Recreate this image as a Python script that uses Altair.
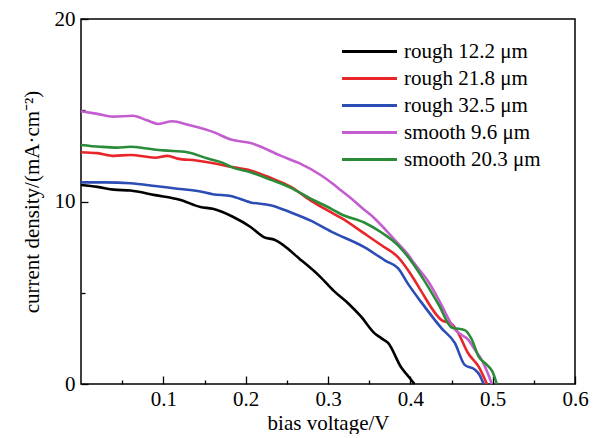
import altair as alt
import pandas as pd

series_names = ["rough 12.2 μm", "rough 21.8 μm", "rough 32.5 μm", "smooth 9.6 μm", "smooth 20.3 μm"]
series_colors = ["#000000", "#e8262a", "#2b4db5", "#c45ed0", "#2a8c38"]

black_v = [0, 0.02, 0.04, 0.06, 0.09, 0.12, 0.145, 0.16, 0.185, 0.206, 0.222, 0.235, 0.267, 0.29, 0.307, 0.325, 0.34, 0.356, 0.365, 0.373, 0.389, 0.398, 0.405]
black_j = [10.9, 10.8, 10.65, 10.6, 10.35, 10.1, 9.7, 9.6, 9.15, 8.6, 8.05, 7.9, 6.8, 5.9, 5.1, 4.4, 3.7, 2.8, 2.5, 2.25, 0.9, 0.4, 0.0]

red_v = [0, 0.02, 0.04, 0.06, 0.09, 0.105, 0.117, 0.14, 0.161, 0.182, 0.206, 0.23, 0.255, 0.279, 0.304, 0.316, 0.344, 0.365, 0.385, 0.405, 0.413, 0.438, 0.45, 0.458, 0.47, 0.483, 0.493]
red_j = [12.7, 12.65, 12.5, 12.55, 12.4, 12.5, 12.35, 12.25, 12.1, 11.9, 11.7, 11.3, 10.8, 10.05, 9.4, 9.1, 8.25, 7.6, 6.95, 5.7, 5.1, 3.5, 3.3, 2.8, 1.7, 0.95, 0.0]

blue_v = [0, 0.03, 0.06, 0.09, 0.117, 0.145, 0.16, 0.182, 0.206, 0.23, 0.255, 0.279, 0.304, 0.344, 0.37, 0.385, 0.397, 0.413, 0.438, 0.454, 0.466, 0.478, 0.484, 0.489]
blue_j = [11.05, 11.05, 11.0, 10.85, 10.7, 10.55, 10.4, 10.3, 9.95, 9.8, 9.4, 8.95, 8.35, 7.5, 6.75, 6.35, 5.5, 4.5, 3.05, 2.25, 1.05, 0.8, 0.5, 0.0]

magenta_v = [0, 0.02, 0.039, 0.063, 0.08, 0.094, 0.111, 0.13, 0.161, 0.182, 0.206, 0.243, 0.265, 0.291, 0.305, 0.316, 0.33, 0.344, 0.356, 0.37, 0.385, 0.397, 0.405, 0.422, 0.437, 0.446, 0.454, 0.462, 0.47, 0.478, 0.487, 0.494, 0.499]
magenta_j = [14.95, 14.8, 14.65, 14.7, 14.45, 14.25, 14.4, 14.2, 13.8, 13.4, 13.2, 12.5, 12.1, 11.45, 11.0, 10.6, 10.1, 9.55, 9.1, 8.45, 7.7, 7.1, 6.6, 5.6, 4.4, 3.6, 3.0, 2.7, 2.45, 1.9, 1.3, 0.6, 0.0]

green_v = [0, 0.023, 0.044, 0.06, 0.08, 0.1, 0.129, 0.154, 0.173, 0.182, 0.206, 0.23, 0.255, 0.279, 0.304, 0.316, 0.344, 0.365, 0.385, 0.4, 0.415, 0.435, 0.45, 0.466, 0.474, 0.483, 0.493, 0.5, 0.505]
green_j = [13.1, 13.0, 12.95, 13.0, 12.9, 12.8, 12.7, 12.35, 12.1, 11.9, 11.6, 11.2, 10.75, 10.15, 9.6, 9.3, 8.85, 8.3, 7.6, 6.8, 5.8, 4.3, 3.1, 2.95, 2.5, 1.5, 1.05, 0.65, 0.0]

x_major = [0.1, 0.2, 0.3, 0.4, 0.5, 0.6]
x_minor = [0.05, 0.15, 0.25, 0.35, 0.45, 0.55]
y_major = [0, 10, 20]
y_minor = [5, 15]

rows = []
for name, vs, js in zip(series_names,
                        [black_v, red_v, blue_v, magenta_v, green_v],
                        [black_j, red_j, blue_j, magenta_j, green_j]):
    for v, j in zip(vs, js):
        rows.append({"series": name, "v": v, "j": j})
df = pd.DataFrame(rows)

FONT = "Liberation Serif"
FS = 21

xscale = alt.Scale(domain=[0, 0.6], nice=False, zero=False)
yscale = alt.Scale(domain=[0, 20], nice=False)

x_major_axis = alt.Axis(values=x_major, tickSize=8, offset=-8, domain=False, grid=False,
                        orient="bottom", format=".1f", labelFlush=False,
                        labelFont=FONT, labelFontSize=FS, labelColor="black", labelPadding=4,
                        tickColor="black", tickWidth=1.3,
                        title="bias voltage/V", titleFont=FONT, titleFontSize=FS,
                        titleFontWeight="normal", titleColor="black", titlePadding=3)
x_minor_axis = alt.Axis(values=x_minor, tickSize=4, offset=-4, domain=False, grid=False,
                        orient="bottom", labels=False, tickColor="black", tickWidth=1.3, title=None)
y_major_axis = alt.Axis(values=y_major, tickSize=7, offset=-7, domain=False, grid=False,
                        orient="left", labelFlush=False,
                        labelFont=FONT, labelFontSize=FS, labelColor="black", labelPadding=6,
                        tickColor="black", tickWidth=1.3,
                        title="current density/(mA·cm⁻²)", titleFont=FONT, titleFontSize=FS,
                        titleFontWeight="normal", titleColor="black", titlePadding=12)
y_minor_axis = alt.Axis(values=y_minor, tickSize=4, offset=-4, domain=False, grid=False,
                        orient="left", labels=False, tickColor="black", tickWidth=1.3, title=None)

legend = alt.Legend(orient="none", legendX=276, legendY=20, title=None,
                    symbolType="M-2.5,0H2.5", symbolSize=484, symbolStrokeWidth=3,
                    labelFont=FONT, labelFontSize=FS, labelColor="black", labelOffset=22,
                    rowPadding=4, padding=0)

lines = alt.Chart(df).mark_line(strokeWidth=2.6, interpolate="monotone").encode(
    x=alt.X("v:Q", scale=xscale, axis=x_major_axis),
    y=alt.Y("j:Q", scale=yscale, axis=y_major_axis),
    color=alt.Color("series:N", sort=series_names,
                    scale=alt.Scale(domain=series_names, range=series_colors),
                    legend=legend),
)

minor = alt.Chart(df).mark_line(opacity=0).encode(
    x=alt.X("v:Q", scale=xscale, axis=x_minor_axis),
    y=alt.Y("j:Q", scale=yscale, axis=y_minor_axis),
    detail="series:N",
)

chart = alt.layer(lines, minor).resolve_axis(x="independent", y="independent").properties(
    width=494, height=365,
    autosize=alt.AutoSizeParams(type="none"),
    padding={"left": 73, "top": 11, "right": 15, "bottom": 50},
).configure_view(stroke="black", strokeWidth=1.5)

chart.save("out.html", embed_options={"renderer": "svg", "actions": False})
